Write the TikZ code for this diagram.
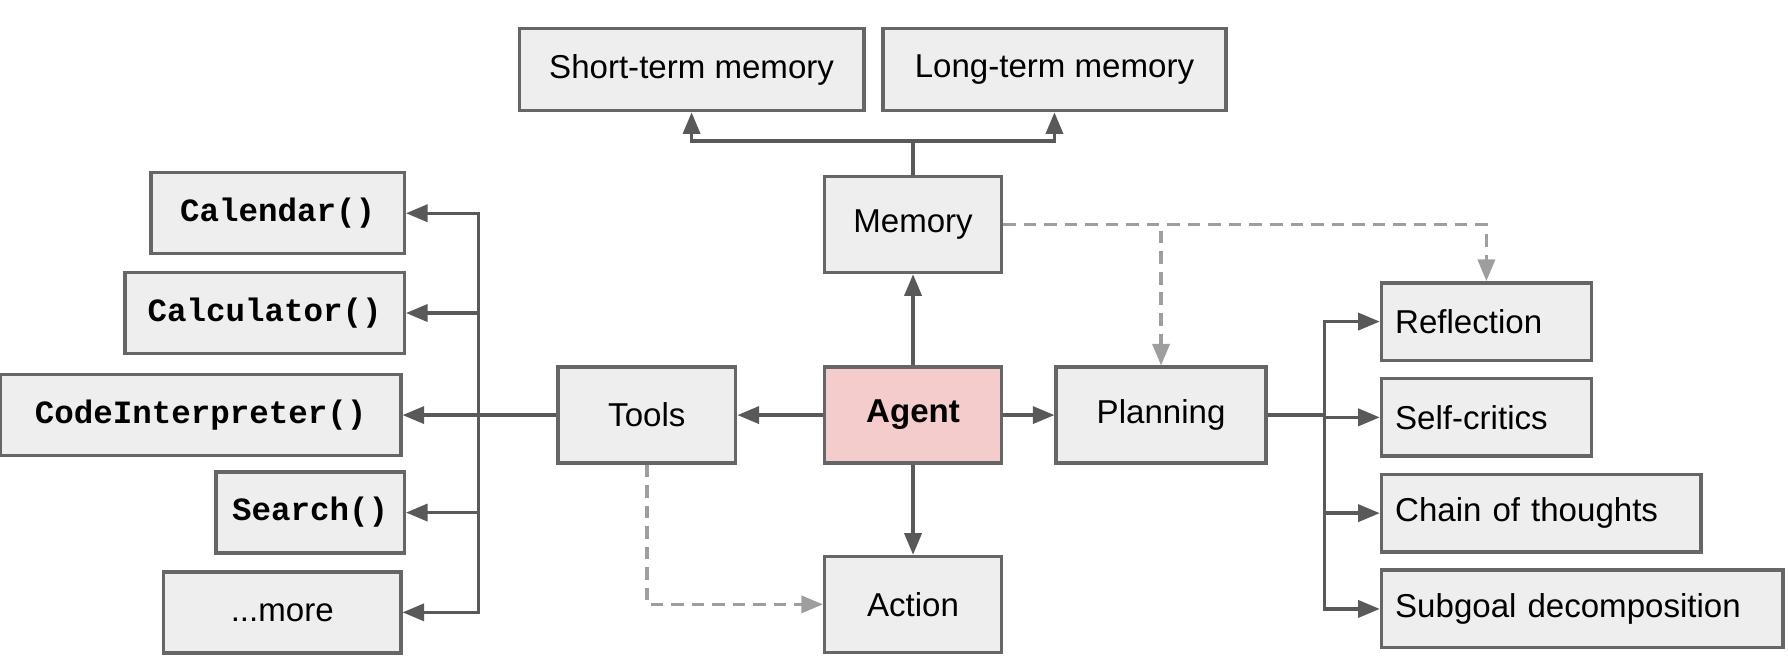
\documentclass[tikz,border=0pt]{standalone}
\usepackage{fontspec}
\setmainfont{Liberation Sans}
\setmonofont{Liberation Mono}
\usepackage{xcolor}
\usepackage{tikz}
\usetikzlibrary{positioning,arrows.meta}
\definecolor{boxgray}{HTML}{EEEEEE}
\definecolor{edgegray}{HTML}{666666}
\definecolor{wiregray}{HTML}{595959}
\definecolor{dashgray}{HTML}{9E9E9E}
\definecolor{agentpink}{HTML}{F4CCCC}

\begin{document}
\begin{tikzpicture}[x=1pt, y=-1pt,
  box/.style={draw=edgegray, fill=boxgray, line width=3pt, rectangle, inner sep=0pt, minimum height=84pt, font=\fontsize{29}{34}\selectfont},
  toolbox/.style={box, minimum height=71pt, anchor=east, font=\fontsize{28.5}{34}\selectfont\ttfamily\bfseries},
  stepbox/.style={box, minimum height=68pt, inner xsep=12pt, align=left, anchor=west},
  wire/.style={draw=wiregray, line width=3pt},
  arr/.style={wire, -{Triangle[length=19pt,width=15pt]}},
  dasharr/.style={draw=dashgray, line width=3pt, dash pattern=on 11pt off 7pt, -{Triangle[length=19pt,width=15pt]}}]
\useasboundingbox (0,0) rectangle (1568,576);

\node[box, fill=agentpink, minimum width=155pt, font=\fontsize{29}{34}\selectfont\bfseries] (agent) at (800.7,364) {Agent};
\node[box, minimum width=155pt, above=80pt of agent] (memory) {Memory};
\node[box, minimum width=156pt, left=75pt of agent] (tools) {Tools};
\node[box, minimum width=184pt, right=45pt of agent] (planning) {Planning};
\node[box, minimum width=155pt, below=79pt of agent] (action) {Action};

\node[box, minimum width=302pt, minimum height=72pt] (stm) at (606.5,61) {Short-term memory};
\node[box, minimum width=301pt, minimum height=72pt] (ltm) at (924.7,61) {Long-term memory};

\node[toolbox, minimum width=222pt] (calendar) at (356,187) {Calendar()};
\node[toolbox, minimum width=245pt] (calculator) at (356,274.5) {Calculator()};
\node[toolbox, minimum width=351pt] (codeint) at (353,364) {CodeInterpreter()};
\node[toolbox, minimum width=165pt] (search) at (356,449.5) {Search()};
\node[toolbox, minimum width=208pt, font=\fontsize{29}{34}\selectfont] (more) at (353,537) {...more};

\node[stepbox, text width=160pt] (reflection) at (1210,282) {Reflection};
\node[stepbox, text width=160pt] (selfcrit) at (1210,366) {Self-critics};
\node[stepbox, text width=256pt] (chain) at (1210,450) {Chain of thoughts};
\node[stepbox, text width=328pt] (subgoal) at (1210,534) {Subgoal decomposition};

\coordinate[above=30pt of memory] (msplit);
\coordinate[left=68pt of tools] (tbus);
\coordinate[right=50pt of planning] (pbus);

\draw[arr] (agent) -- (memory);
\draw[arr] (agent) -- (tools);
\draw[arr] (agent) -- (planning);
\draw[arr] (agent) -- (action);

\draw[wire] (memory) -- (msplit);
\foreach \m in {stm,ltm}
  \draw[arr] (msplit) -| (\m);

\draw[wire] (tools) -- (tbus);
\foreach \t in {calendar,calculator,codeint,search,more}
  \draw[arr] (tbus) |- (\t);

\draw[wire] (planning) -- (pbus);
\foreach \s in {reflection,selfcrit,chain,subgoal}
  \draw[arr] (pbus) |- (\s);

\draw[dasharr] (memory.east) -| (planning.north);
\draw[dasharr] (memory.east) -| (reflection.north);
\draw[dasharr] (tools.south) |- (action.west);
\end{tikzpicture}
\end{document}
